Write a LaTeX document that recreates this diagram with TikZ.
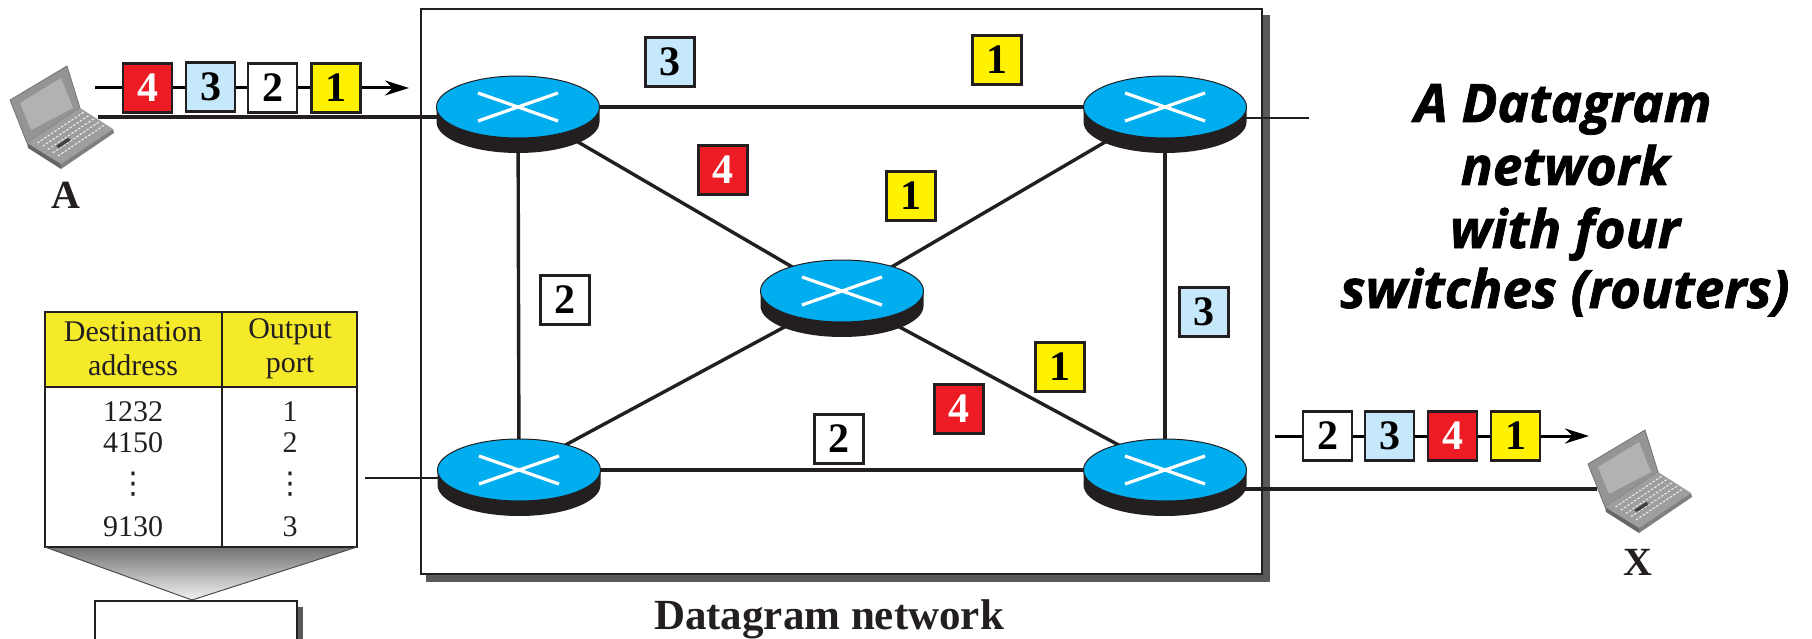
\documentclass[tikz,border=0pt]{standalone}
\usepackage{fontspec}
\setmainfont{Liberation Serif}
\newfontfamily\titlefont[BoldItalicFeatures={FakeBold=1.4}]{Open Sans}
\newfontfamily\symfont{DejaVu Sans}
\usetikzlibrary{backgrounds,arrows.meta,shapes.geometric}
\definecolor{rblue}{HTML}{00AEEF}
\definecolor{rdark}{HTML}{231F20}
\definecolor{pred}{HTML}{ED1C24}
\definecolor{pblue}{HTML}{C5E8FA}
\definecolor{pyel}{HTML}{FFF200}
\definecolor{thead}{HTML}{F5EA2A}
\tikzset{
  router/.style={ellipse,draw=rdark,line width=1pt,fill=rblue,minimum width=163pt,minimum height=62pt,inner sep=0pt},
  pkt/.style={rectangle,draw=rdark,line width=2.4pt,minimum width=49pt,minimum height=49pt,inner sep=0pt,font=\fontsize{42}{42}\selectfont\bfseries},
  pY/.style={pkt,fill=pyel,text=black},
  pR/.style={pkt,fill=pred,text=white},
  pB/.style={pkt,fill=pblue,text=black},
  pW/.style={pkt,fill=white,text=black},
  link/.style={draw=rdark,line width=3.4pt},
  flow/.style={draw=black,line width=3pt,-{Stealth[length=24pt,width=15pt]}},
  stub/.style={draw=rdark,line width=2pt},
  cell/.style={font=\fontsize{30}{30}\selectfont,text=rdark,inner sep=0pt},
  hdr/.style={cell},
  lbl/.style={font=\fontsize{40}{40}\selectfont\bfseries,text=rdark,inner sep=0pt},
  ttl/.style={font=\titlefont\fontsize{53}{53}\selectfont\bfseries\itshape,inner sep=0pt,anchor=base},
}
\newcommand{\routerat}[3]{%
  \fill[rdark] (#2-81.5,#3) -- (#2-81.5,#3+15) arc[x radius=81.5,y radius=31,start angle=180,end angle=0] -- (#2+81.5,#3) -- cycle;
  \node[router] (#1) at (#2,#3) {};
  \draw[white,line width=3.2pt] (#2-40,#3-14) -- (#2+40,#3+14) (#2-40,#3+14) -- (#2+40,#3-14);
}
\newcommand{\laptop}[2]{%
  \begin{scope}[shift={(#1,#2)}]
    \fill[black!42,draw=black!55,line width=.8pt] (10,100) -- (67,66) -- (80,108) -- (27,143) -- cycle;
    \fill[black!30] (20,103) -- (61,78) -- (73,108) -- (31,130) -- cycle;
    \fill[black!38] (27,143) -- (80,108) -- (113,129) -- (61,164) -- cycle;
    \fill[black!60] (27,143) -- (61,164) -- (61,169) -- (28,148) -- cycle;
    \fill[black!50] (61,164) -- (113,129) -- (114,133) -- (61,169) -- cycle;
    \foreach \r in {0,1,2,3,4}
      \foreach \c in {0,...,13} {
        \pgfmathsetmacro{\u}{.08+.86*\c/13}
        \pgfmathsetmacro{\v}{.10+.62*\r/4}
        \pgfmathsetmacro{\px}{31+\u*51+\v*33}
        \pgfmathsetmacro{\py}{143-\u*34+\v*21}
        \fill[black!8] (\px,\py) ++(-1.3,.2) -- ++(2,-1.3) -- ++(1,.7) -- ++(-2,1.3) -- cycle;
      }
    \fill[black!75] (56,146) -- (68,138) -- (71,140) -- (59,148) -- cycle;
  \end{scope}
}
\begin{document}
\begin{tikzpicture}[x=1pt,y=-1pt]
\useasboundingbox (0,0) rectangle (1812,639);
% routers
\routerat{R1}{518}{107}
\routerat{R2}{1165}{107}
\routerat{R3}{842}{291}
\routerat{R4}{519}{470}
\routerat{R5}{1165}{470}
% named free ends
\coordinate (lapA) at (98,117);
\coordinate (lapX) at (1597,489);
\coordinate (stubR) at (1309,118);
\coordinate (stubL) at (365,478);
\coordinate (a1) at (95,88);
\coordinate (a2) at (409,88);
\coordinate (b1) at (1275,436);
\coordinate (b2) at (1589,436);
\coordinate (R1e) at (518,117);
\coordinate (R2e) at (1165,118);
\coordinate (R4e) at (519,478);
\coordinate (R5e) at (1165,489);
\coordinate (R3c) at (842,296);
\begin{scope}[on background layer]
  \fill[black!65] (426,15) rectangle (1270,582);
  \draw[fill=white,draw=rdark,line width=2.6pt] (421,9) rectangle (1262,574);
  \draw[link] (lapA) -- (R1e);
  \draw[link] (lapX) -- (R5e);
  \draw[stub] (stubR) -- (R2e);
  \draw[stub] (stubL) -- (R4e);
  \draw[link] (R1.center) -- (R2.center);
  \draw[link] (R4.center) -- (R5.center);
  \draw[link] (R1.center) -- (R4.center);
  \draw[link] (R2.center) -- (R5.center);
  \draw[link] (R1.center) -- (R3c);
  \draw[link] (R2.center) -- (R3c);
  \draw[link] (R4.center) -- (R3c);
  \draw[link] (R5.center) -- (R3c);
\end{scope}
% packets top stream
\draw[flow] (a1) -- (a2);
\node[pR] (s4) at (147.5,88) {4};
\node[pB] (s3) at (210.5,87) {3};
\node[pW] (s2) at (272.5,88) {2};
\node[pY] (s1) at (336,88) {1};
% packets bottom stream
\draw[flow] (b1) -- (b2);
\node[pW] (t2) at (1327.5,436) {2};
\node[pB] (t3) at (1389.5,436) {3};
\node[pR] (t4) at (1452.5,436) {4};
\node[pY] (t1) at (1515.5,436) {1};
% floating packets
\node[pB] (f1) at (670,62) {3};
\node[pY] (f2) at (997,60) {1};
\node[pR] (f3) at (723,170) {4};
\node[pY] (f4) at (911,196) {1};
\node[pW] (f5) at (565,300) {2};
\node[pB] (f6) at (1204,312) {3};
\node[pY] (f7) at (1060,367) {1};
\node[pR] (f8) at (959,409) {4};
\node[pW] (f9) at (839,439) {2};
% laptops
\laptop{0}{0}
\laptop{1578}{364}
\node[lbl] (labA) at (66,195) {A};
\node[lbl] (labX) at (1638,562) {X};
% table
\fill[thead] (45,312) rectangle (357,387);
\draw[rdark,line width=1.6pt] (45,312) rectangle (357,547);
\draw[rdark,line width=1.6pt] (45,387) -- (357,387);
\draw[rdark,line width=1.6pt] (222,312) -- (222,547);
\node[hdr] (h1) at (133,332) {Destination};
\node[hdr] (h2) at (133,365) {address};
\node[hdr] (h3) at (290,332) {Output};
\node[hdr] (h4) at (290,367) {port};
\node[cell] (c1) at (133,412) {1232};
\node[cell] (c2) at (133,443) {4150};
\node[cell,font=\symfont\fontsize{30}{30}\selectfont] (c3) at (133,484) {⋮};
\node[cell] (c4) at (133,527) {9130};
\node[cell] (d1) at (290,412) {1};
\node[cell] (d2) at (290,443) {2};
\node[cell,font=\symfont\fontsize{30}{30}\selectfont] (d3) at (290,484) {⋮};
\node[cell] (d4) at (290,527) {3};
\shade[top color=black!55,bottom color=black!5] (45,547) -- (357,547) -- (192,600) -- cycle;
\draw[rdark,line width=1.6pt] (45,547) -- (357,547);
\draw[black!70,line width=1pt] (45,547) -- (192,600) -- (357,547);
% lower box
\fill[black!65] (297,607) rectangle (303,639);
\draw[rdark,line width=1.6pt,fill=white] (95,660) -- (95,601) -- (297,601) -- (297,660);
% captions
\node[font=\fontsize{43}{43}\selectfont\bfseries,text=rdark,inner sep=0pt] (cap) at (829,619) {Datagram network};
\node[ttl] (t1a) at (1563,122) {A Datagram};
\node[ttl] (t1b) at (1565,185) {network};
\node[ttl] (t1c) at (1565,248) {with four};
\node[ttl] (t1d) at (1565,308) {switches (routers)};
\end{tikzpicture}
\end{document}
